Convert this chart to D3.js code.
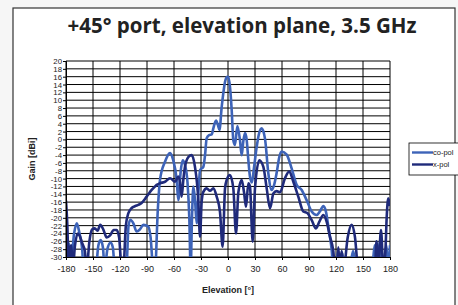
<!DOCTYPE html>
<html>
<head>
<meta charset="utf-8">
<script src="https://cdn.jsdelivr.net/npm/d3@7"></script>
<style>
  body { margin: 0; background: #f6f6f6; }
  svg { display: block; }
</style>
</head>
<body>
<svg id="chart" width="458" height="305"></svg>
<script>
const title = '+45° port, elevation plane, 3.5 GHz';
const xTicks = d3.range(-180, 181, 30);
const yTicks = d3.range(-30, 21, 2);

// nulls that fall below the -30 dB floor are given as -33 (clipped)
const copolAngle = [-180, -177, -175, -171, -168, -165, -162, -160.5, -147, -144, -141.5, -139, -137,
  -134, -130.5, -128, -125.6, -113, -110.5, -108.5, -105, -101.5, -98, -94, -88.5, -86, -83,
  -81, -78, -75.6, -70, -64.4, -61, -57, -55.2, -52.5, -50.4, -47.8, -45, -43, -41.5, -40, -38.5,
  -36.5, -34.8, -33, -31, -27.4, -25.5, -23.7, -21, -18, -16.3, -13.3, -11, -9.5, -7, -5.2, -3.3,
  -1, 0.4, 2.2, 4.1, 5.9, 7.8, 10.4, 13.3, 15.2, 17, 18.9, 20.7, 22.5, 24.4, 26.5, 29, 31.9, 34.5,
  37.4, 41.1, 44.8, 48.5, 51, 54, 57, 59.6, 65.2, 70.7, 76.3, 81.9, 87.4, 93, 98.5, 102, 106, 108.9,
  111.5, 115.2, 117, 120, 122.5, 125, 127, 129, 135, 139, 143, 160, 163, 165.5, 169, 172, 176, 178, 180];
const copolGain = [-33, -26.5, -33, -24, -21.4, -24, -28, -33, -33, -27, -25.7, -27.5, -33,
  -28, -26.3, -27.5, -33, -33, -22, -20.5, -21.5, -23.5, -23, -21.8, -22.3, -25, -33,
  -33, -18, -10.4, -5.7, -3.5, -5.2, -10.4, -15.5, -8, -5.3, -6.5, -11, -20, -33, -20, -12,
  -16, -21.4, -14, -7.8, -7, -4, 0.3, 1.1, 1.3, 2.8, 4.8, 3.5, 2.4, 8.3, 11.8, 14.7,
  16, 16, 13.4, 7.5, -0.2, -1.4, 3.4, -0.2, -4, -0.5, 1.6, 0, -5, -9.5, -11, -7, -1.9, 1.5,
  2.8, 0.2, -8.6, -12.9, -11.8, -8.6, -4.5, -3.1, -3.9, -7.4, -11.6, -12.9, -15.5, -18.4, -19.3, -18.4, -17, -18.5,
  -22.3, -28.2, -33, -33, -28.5, -33, -29, -33, -33, -28.5, -33, -33, -27, -33, -26, -33, -27, -33, -27];

const xpolAngle = [-180, -178.5, -177, -175.5, -174, -172.5, -170, -167, -165, -162, -159, -157, -154,
  -151, -148, -145, -142, -138.5, -134.8, -131, -127, -123.7, -121, -118, -116.3, -113.5, -110.8,
  -107, -103, -99.6, -96, -90.4, -84.8, -81, -79.2, -75.6, -70, -64.4, -58.9, -55.2, -53.3, -51.5,
  -49.5, -47.8, -44, -40.4, -36.7, -33, -31.1, -29.3, -27.4, -23.7, -20, -16.3, -12.6, -8.9, -6,
  -3.3, -1.5, 2.2, 5.9, 8.9, 11.5, 15.2, 17.8, 20, 22.6, 24.4, 27.4, 30, 34.8, 39.3, 43, 46.7,
  50.4, 54, 57.8, 63.3, 68.1, 72.6, 78.1, 83.7, 88.1, 93, 97.8, 101.5, 106, 109.6, 113.3, 117,
  119, 121, 122.6, 124, 126.3, 128.5, 133, 137.4, 141, 144.8, 163.3, 165, 167, 170, 172.6, 175,
  176.3, 178.1, 180];
const xpolGain = [-15.6, -22, -33, -27.5, -27, -33, -27, -24, -24.5, -26.5, -28.5, -33, -26,
  -23, -22.7, -23.3, -21.8, -23, -25, -24.5, -23.1, -23.1, -25, -33, -33, -22, -18.9,
  -17.5, -17, -16.7, -16.2, -14.6, -12.9, -12, -11.6, -11.2, -10.8, -9.9, -10.8, -9.5, -11, -14.6,
  -10, -7, -4.5, -4, -7, -15.5, -24.8, -16, -13.4, -12.5, -13.1, -12.5, -14.6, -18.5, -27.4,
  -12.5, -10.4, -9.1, -12.5, -24, -13.5, -10.4, -13.5, -17.2, -11.2, -12, -26.1, -12.5, -5.3, -7, -12.5, -17.6,
  -13.8, -13.2, -13.5, -9.9, -8.2, -10.8, -14.6, -18.4, -18.8, -20.6, -22.7, -21, -19.3, -21, -24.8, -28.5,
  -33, -33, -27.5, -33, -28.5, -33, -25, -21.8, -24.8, -33, -33, -26, -33, -23.1, -33, -28,
  -20, -15, -17];

const series = [
  { name: 'co-pol', angle: copolAngle, gain: copolGain, color: '#3d63b8' },
  { name: 'x-pol', angle: xpolAngle, gain: xpolGain, color: '#1f2a7a' }
];

const svg = d3.select('#chart');
const margin = { left: 66, right: 68, top: 61, bottom: 48 };
const width = 458 - margin.left - margin.right;
const height = 305 - margin.top - margin.bottom;
const hyphenFormat = d => String(d);

// outer frame
svg.append('rect')
  .attr('x', 13).attr('y', 8)
  .attr('width', 442).attr('height', 310)
  .attr('fill', '#fff')
  .attr('stroke', '#333')
  .attr('stroke-width', 1.2);

svg.append('text')
  .attr('x', 242).attr('y', 33)
  .attr('text-anchor', 'middle')
  .style('font-family', '"Open Sans", sans-serif')
  .style('font-weight', 'bold')
  .style('font-size', '20.5px')
  .attr('fill', '#222')
  .text(title);

const x = d3.scaleLinear().domain([-180, 180]).range([0, width]);
const y = d3.scaleLinear().domain([-30, 20]).range([height, 0]);

const g = svg.append('g').attr('transform', `translate(${margin.left},${margin.top})`);

g.append('clipPath').attr('id', 'plot-clip')
  .append('rect').attr('width', width).attr('height', height);

g.append('g')
  .selectAll('line')
  .data(yTicks)
  .join('line')
  .attr('x1', 0).attr('x2', width)
  .attr('y1', d => y(d)).attr('y2', d => y(d))
  .attr('stroke', '#000')
  .attr('stroke-width', 1);

g.append('g')
  .selectAll('line')
  .data(xTicks)
  .join('line')
  .attr('x1', d => x(d)).attr('x2', d => x(d))
  .attr('y1', 0).attr('y2', height)
  .attr('stroke', '#000')
  .attr('stroke-width', 1);

const line = d3.line()
  .x(d => x(d[0]))
  .y(d => y(d[1]))
  .curve(d3.curveMonotoneX);

g.append('g')
  .attr('clip-path', 'url(#plot-clip)')
  .selectAll('path')
  .data(series)
  .join('path')
  .attr('d', s => line(d3.zip(s.angle, s.gain)))
  .attr('fill', 'none')
  .attr('stroke', s => s.color)
  .attr('stroke-width', 2.6)
  .attr('stroke-linejoin', 'round');

const yAxis = g.append('g')
  .call(d3.axisLeft(y).tickValues(yTicks).tickSize(3).tickPadding(1).tickFormat(hyphenFormat));
yAxis.select('.domain').attr('stroke', '#000');
yAxis.selectAll('text')
  .style('font-family', '"Liberation Sans", Arial, sans-serif')
  .style('font-size', '7.8px')
  .attr('fill', '#222');

const xAxis = g.append('g')
  .attr('transform', `translate(0,${height})`)
  .call(d3.axisBottom(x).tickValues(xTicks).tickSize(3).tickPadding(6).tickFormat(hyphenFormat));
xAxis.select('.domain').attr('stroke', '#000');
xAxis.selectAll('text')
  .style('font-family', '"Liberation Sans", Arial, sans-serif')
  .style('font-size', '9px')
  .attr('fill', '#222');

svg.append('text')
  .attr('x', margin.left + width / 2).attr('y', 292.5)
  .attr('text-anchor', 'middle')
  .style('font-family', '"Liberation Sans", Arial, sans-serif')
  .style('font-weight', 'bold')
  .style('font-size', '9px')
  .attr('fill', '#222')
  .text('Elevation [°]');

svg.append('text')
  .attr('transform', `translate(35,${margin.top + height / 2}) rotate(-90)`)
  .attr('text-anchor', 'middle')
  .style('font-family', '"Liberation Sans", Arial, sans-serif')
  .style('font-weight', 'bold')
  .style('font-size', '9px')
  .attr('fill', '#222')
  .text('Gain [dBi]');

// legend
const legend = svg.append('g').attr('transform', 'translate(409,143)');
legend.append('rect')
  .attr('width', 52).attr('height', 32)
  .attr('fill', '#fff')
  .attr('stroke', '#000')
  .attr('stroke-width', 0.8);
const item = legend.selectAll('g.item')
  .data(series)
  .join('g')
  .attr('class', 'item')
  .attr('transform', (d, i) => `translate(0,${9.5 + i * 12})`);
item.append('line')
  .attr('x1', 3).attr('x2', 24)
  .attr('stroke', d => d.color)
  .attr('stroke-width', 2.4);
item.append('text')
  .attr('x', 24).attr('dy', '0.35em')
  .style('font-family', '"Liberation Sans", Arial, sans-serif')
  .style('font-size', '7.5px')
  .attr('fill', '#222')
  .text(d => d.name);
</script>
</body>
</html>
